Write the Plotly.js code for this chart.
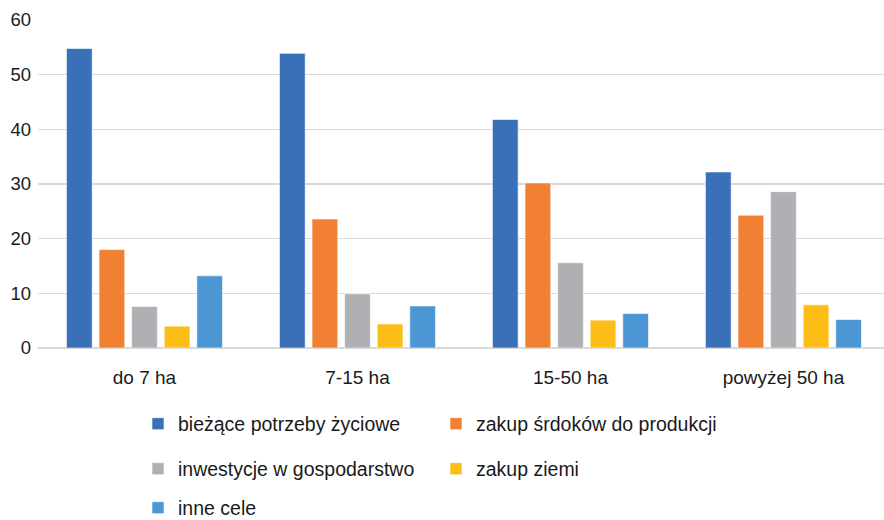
<!DOCTYPE html>
<html>
<head>
<meta charset="utf-8">
<script src="https://cdn.plot.ly/plotly-3.0.1.min.js"></script>
<style>html,body{margin:0;padding:0;background:#fff;}#chart{width:884px;height:520px;}</style>
</head>
<body>
<div id="chart"></div>
<script>
const categories = ["do 7 ha", "7-15 ha", "15-50 ha", "powyżej 50 ha"];
const seriesNames = ["bieżące potrzeby życiowe", "zakup śrdoków do produkcji", "inwestycje w gospodarstwo", "zakup ziemi", "inne cele"];
const biezace = [54.8, 53.9, 41.8, 32.2];
const srodki = [18.0, 23.6, 30.2, 24.3];
const inwestycje = [7.6, 9.9, 15.6, 28.6];
const ziemia = [4.0, 4.4, 5.1, 7.9];
const inne = [13.2, 7.7, 6.3, 5.2];
const yTicks = [0, 10, 20, 30, 40, 50, 60];

const colors = ["#3A70B8", "#F28033", "#AFB0B3", "#FCBE16", "#4C97D3"];
const values = [biezace, srodki, inwestycje, ziemia, inne];
const legendFor = ["legend", "legend", "legend2", "legend2", "legend3"];

const traces = values.map((v, i) => ({
  type: "bar",
  x: categories,
  y: v,
  name: seriesNames[i],
  marker: {color: colors[i], line: {color: "rgba(255,255,255,0.6)", width: 1}},
  legend: legendFor[i],
  hoverinfo: "skip"
}));

const fam = "Liberation Sans, Arial, sans-serif";
function leg(yPx) {
  return {
    orientation: "h", xref: "container", yref: "container",
    x: 138 / 884, y: 1 - yPx / 520, xanchor: "left", yanchor: "middle",
    entrywidth: 253, entrywidthmode: "pixels", itemwidth: 30,
    font: {family: fam, size: 19.5, color: "#1a1a1a"},
    bgcolor: "rgba(0,0,0,0)", traceorder: "normal"
  };
}

const layout = {
  width: 884, height: 520,
  margin: {l: 38, r: 0, t: 20, b: 172},
  paper_bgcolor: "#fff", plot_bgcolor: "#fff",
  font: {family: fam, size: 18, color: "#1a1a1a"},
  barmode: "group", bargap: 0.235, bargroupgap: 0.21,
  showlegend: true,
  xaxis: {
    type: "category", range: [-0.5, 3.472], showgrid: false, zeroline: false,
    showline: false, ticks: "outside", ticklen: 12, tickcolor: "rgba(0,0,0,0)",
    tickfont: {family: fam, size: 19, color: "#1a1a1a"}, fixedrange: true
  },
  yaxis: {
    range: [0, 60], tickvals: yTicks, ticktext: yTicks.map(String),
    showgrid: true, gridcolor: "#d9d9d9", gridwidth: 1.5,
    zeroline: true, zerolinecolor: "#d9d9d9", zerolinewidth: 1.5,
    showline: false, ticks: "", ticklabelstandoff: 6,
    tickfont: {family: fam, size: 18.5, color: "#1a1a1a"}, fixedrange: true
  },
  legend: leg(424),
  legend2: leg(469),
  legend3: leg(508)
};

Plotly.newPlot("chart", traces, layout, {displayModeBar: false, staticPlot: true});
</script>
</body>
</html>
